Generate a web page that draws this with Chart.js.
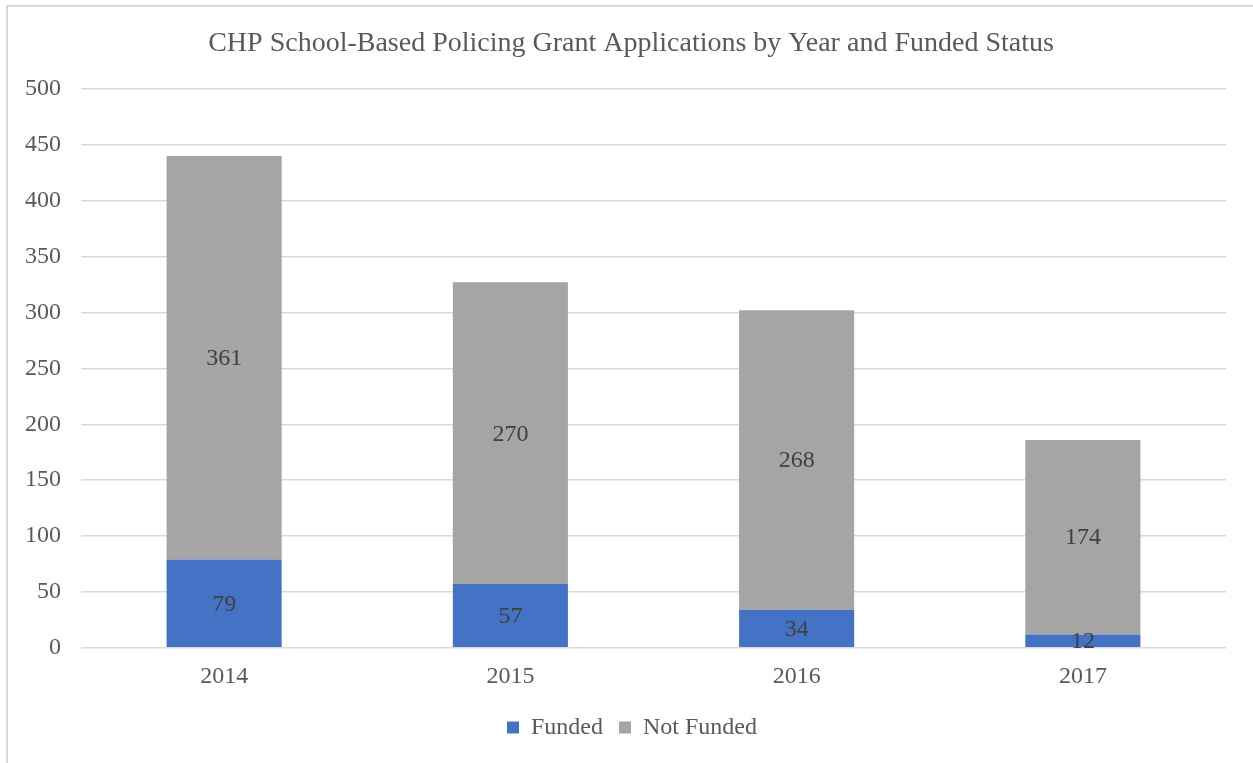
<!DOCTYPE html>
<html>
<head>
<meta charset="utf-8">
<script src="https://cdn.jsdelivr.net/npm/chart.js@4/dist/chart.umd.min.js"></script>
<style>
  html, body { margin: 0; padding: 0; background: #ffffff; }
  #wrap { position: relative; width: 1253px; height: 763px; }
  canvas { display: block; }
</style>
</head>
<body>
<div id="wrap"><canvas id="chart" width="1253" height="763"></canvas></div>
<script>
// Grant applications per year, split by funding outcome
const years = ['2014', '2015', '2016', '2017'];
const funded = [79, 57, 34, 12];
const notFunded = [361, 270, 268, 174];
const yTicks = [0, 50, 100, 150, 200, 250, 300, 350, 400, 450, 500];

const FONT = '"Liberation Serif", "Times New Roman", serif';
const TEXT = '#595959';

// Thin frame on the top and left edges of the figure,
// and nudge the title and legend blocks so they sit under the frame centre
const framePlugin = {
  id: 'frame',
  beforeDraw(chart) {
    const lg = chart.legend;
    if (lg && !lg._shifted) {
      lg.left += 19;
      lg.right += 19;
      lg._shifted = true;
    }
    const tt = chart.titleBlock;
    if (tt && !tt._shifted) {
      tt.left += 18;
      tt.right += 18;
      tt._shifted = true;
    }
    const ctx = chart.ctx;
    ctx.save();
    ctx.fillStyle = '#ffffff';
    ctx.fillRect(0, 0, chart.width, chart.height);
    ctx.strokeStyle = '#d9d9d9';
    ctx.lineWidth = 2;
    ctx.beginPath();
    ctx.moveTo(7, chart.height);
    ctx.lineTo(7, 6);
    ctx.lineTo(chart.width, 6);
    ctx.stroke();
    ctx.restore();
  }
};

// Value labels centred inside each bar segment
const segmentLabels = {
  id: 'segmentLabels',
  afterDatasetsDraw(chart) {
    const ctx = chart.ctx;
    ctx.save();
    ctx.font = '24px ' + FONT;
    ctx.fillStyle = '#404040';
    ctx.textAlign = 'center';
    ctx.textBaseline = 'middle';
    chart.data.datasets.forEach((ds, di) => {
      const meta = chart.getDatasetMeta(di);
      meta.data.forEach((bar, i) => {
        const p = bar.getProps(['x', 'y', 'base'], true);
        ctx.fillText(String(ds.data[i]), p.x, (p.y + p.base) / 2 + 1);
      });
    });
    ctx.restore();
  }
};

new Chart(document.getElementById('chart'), {
  type: 'bar',
  data: {
    labels: years,
    datasets: [
      { label: 'Funded', data: funded, backgroundColor: '#4472C4' },
      { label: 'Not Funded', data: notFunded, backgroundColor: '#A5A5A5' }
    ]
  },
  options: {
    responsive: false,
    animation: false,
    events: [],
    layout: { padding: { left: 0, right: 27, top: 0, bottom: 13.6 } },
    datasets: { bar: { categoryPercentage: 1, barPercentage: 0.402 } },
    plugins: {
      title: {
        display: true,
        text: 'CHP School-Based Policing Grant Applications by Year and Funded Status',
        color: TEXT,
        font: { family: FONT, size: 28, weight: 'normal', lineHeight: 1.2 },
        padding: { top: 27, bottom: 28.4 }
      },
      legend: {
        position: 'bottom',
        labels: {
          color: TEXT,
          font: { family: FONT, size: 24, lineHeight: 1.2 },
          boxWidth: 12,
          boxHeight: 12,
          padding: 16
        }
      },
      tooltip: { enabled: false }
    },
    scales: {
      x: {
        stacked: true,
        grid: { display: false, drawTicks: false },
        border: { display: false },
        ticks: { color: TEXT, font: { family: FONT, size: 24, lineHeight: 1.2 }, padding: 15 },
        afterFit(scale) { scale.height = 51.6; }
      },
      y: {
        stacked: true,
        min: 0,
        max: 500,
        afterBuildTicks(scale) { scale.ticks = yTicks.map(v => ({ value: v })); },
        grid: { color: '#d9d9d9', lineWidth: 1.5, drawTicks: false },
        border: { display: false },
        ticks: { color: TEXT, font: { family: FONT, size: 24 }, padding: 20 },
        afterFit(scale) { scale.width = 81; }
      }
    }
  },
  plugins: [framePlugin, segmentLabels]
});
</script>
</body>
</html>
